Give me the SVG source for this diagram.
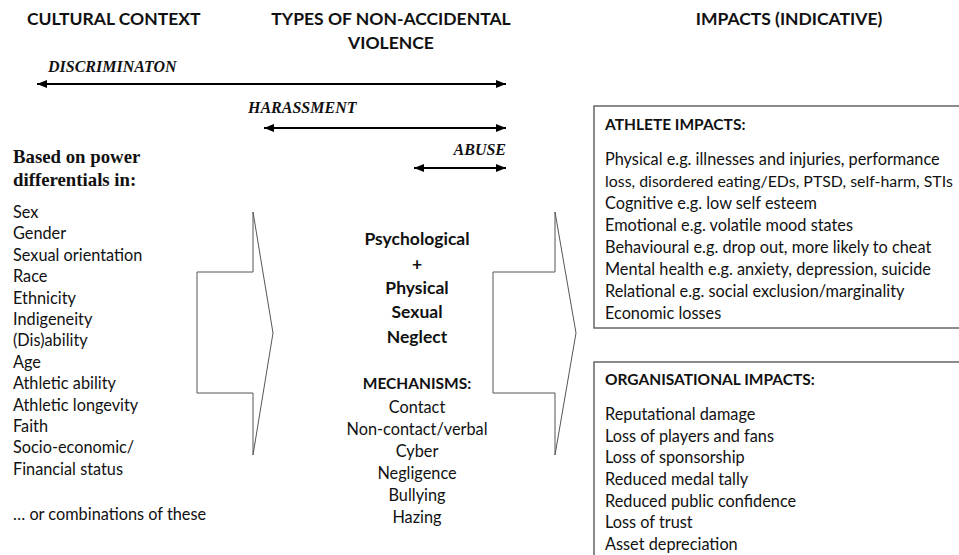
<svg xmlns="http://www.w3.org/2000/svg" width="959" height="555" viewBox="0 0 959 555">
<defs>
<marker id="ah" viewBox="0 0 10 8" refX="10" refY="4" markerWidth="5" markerHeight="4" orient="auto-start-reverse" markerUnits="strokeWidth">
<path d="M0,0 L10,4 L0,8 Z" fill="#000"/>
</marker>
<style>
.h{font-family:Lato,"Open Sans",sans-serif;font-weight:bold;font-size:17.5px;fill:#111}
.t{font-family:Lato,"Open Sans",sans-serif;font-size:16.3px;fill:#111}
.tb{font-family:Lato,"Open Sans",sans-serif;font-size:15.5px;font-weight:bold;fill:#111}
.big{font-family:Lato,"Open Sans",sans-serif;font-size:17.5px;font-weight:bold;fill:#111}
.si{font-family:"Liberation Serif","Times New Roman",serif;font-style:italic;font-weight:bold;font-size:16px;fill:#111}
.sb{font-family:"Liberation Serif","Times New Roman",serif;font-weight:bold;font-size:18.8px;fill:#111}
.conn line{stroke:#000;stroke-width:2;marker-start:url(#ah);marker-end:url(#ah)}
.blk{fill:#fff;stroke:#555;stroke-width:1}
.box{fill:#fff;stroke:#666;stroke-width:1.5}
</style>
</defs>
<rect width="959" height="555" fill="#fff"/>

<g id="headings">
<text class="h" x="27" y="25">CULTURAL CONTEXT</text>
<text class="h" x="391" y="25" text-anchor="middle">TYPES OF NON-ACCIDENTAL</text>
<text class="h" x="391" y="49" text-anchor="middle">VIOLENCE</text>
<text class="h" x="789" y="25" text-anchor="middle">IMPACTS (INDICATIVE)</text>
</g>

<g id="connectors" class="conn">
<line x1="37" y1="84" x2="506" y2="84"/>
<line x1="264" y1="128" x2="506" y2="128"/>
<line x1="414" y1="168" x2="506" y2="168"/>
</g>

<g id="spectrum-labels">
<text class="si" x="48" y="72">DISCRIMINATON</text>
<text class="si" x="248" y="113">HARASSMENT</text>
<text class="si" x="506" y="155" text-anchor="end">ABUSE</text>
</g>

<g id="cultural-context">
<text class="sb" x="13" y="163">Based on power</text>
<text class="sb" x="13" y="186">differentials in:</text>
<text class="t" x="13" y="218">Sex</text>
<text class="t" x="13" y="239.4">Gender</text>
<text class="t" x="13" y="260.8">Sexual orientation</text>
<text class="t" x="13" y="282.2">Race</text>
<text class="t" x="13" y="303.6">Ethnicity</text>
<text class="t" x="13" y="325">Indigeneity</text>
<text class="t" x="13" y="346.4">(Dis)ability</text>
<text class="t" x="13" y="367.8">Age</text>
<text class="t" x="13" y="389.2">Athletic ability</text>
<text class="t" x="13" y="410.6">Athletic longevity</text>
<text class="t" x="13" y="432">Faith</text>
<text class="t" x="13" y="453.4">Socio-economic/</text>
<text class="t" x="13" y="474.8">Financial status</text>
<text class="t" x="13" y="520">… or combinations of these</text>
</g>

<g id="arrow-left">
<polygon class="blk" points="197,272 253,272 253,212 273,333 253,455 253,393 197,393"/>
</g>
<g id="arrow-right">
<polygon class="blk" points="493,272 555,272 555,212 576,333 555,455 555,393 493,393"/>
</g>

<g id="violence-types">
<text class="big" x="417" y="245" text-anchor="middle">Psychological</text>
<text class="big" x="417" y="270" text-anchor="middle">+</text>
<text class="big" x="417" y="294" text-anchor="middle">Physical</text>
<text class="big" x="417" y="318" text-anchor="middle">Sexual</text>
<text class="big" x="417" y="343" text-anchor="middle">Neglect</text>
<text class="tb" x="417" y="389" text-anchor="middle">MECHANISMS:</text>
<text class="t" x="417" y="413" text-anchor="middle">Contact</text>
<text class="t" x="417" y="435" text-anchor="middle">Non-contact/verbal</text>
<text class="t" x="417" y="457" text-anchor="middle">Cyber</text>
<text class="t" x="417" y="479" text-anchor="middle">Negligence</text>
<text class="t" x="417" y="501" text-anchor="middle">Bullying</text>
<text class="t" x="417" y="523" text-anchor="middle">Hazing</text>
</g>

<g id="athlete-impacts">
<rect class="box" x="594" y="106" width="380" height="222"/>
<text class="tb" x="605" y="130">ATHLETE IMPACTS:</text>
<text class="t" x="605" y="165">Physical e.g. illnesses and injuries, performance</text>
<text class="t" x="605" y="187" style="font-size:15.9px">loss, disordered eating/EDs, PTSD, self-harm, STIs</text>
<text class="t" x="605" y="209">Cognitive e.g. low self esteem</text>
<text class="t" x="605" y="231">Emotional e.g. volatile mood states</text>
<text class="t" x="605" y="253">Behavioural e.g. drop out, more likely to cheat</text>
<text class="t" x="605" y="275">Mental health e.g. anxiety, depression, suicide</text>
<text class="t" x="605" y="297">Relational e.g. social exclusion/marginality</text>
<text class="t" x="605" y="319">Economic losses</text>
</g>

<g id="organisational-impacts">
<rect class="box" x="594" y="362" width="380" height="220"/>
<text class="tb" x="605" y="385">ORGANISATIONAL IMPACTS:</text>
<text class="t" x="605" y="420">Reputational damage</text>
<text class="t" x="605" y="442">Loss of players and fans</text>
<text class="t" x="605" y="463">Loss of sponsorship</text>
<text class="t" x="605" y="485">Reduced medal tally</text>
<text class="t" x="605" y="507">Reduced public confidence</text>
<text class="t" x="605" y="528">Loss of trust</text>
<text class="t" x="605" y="550">Asset depreciation</text>
</g>
</svg>
